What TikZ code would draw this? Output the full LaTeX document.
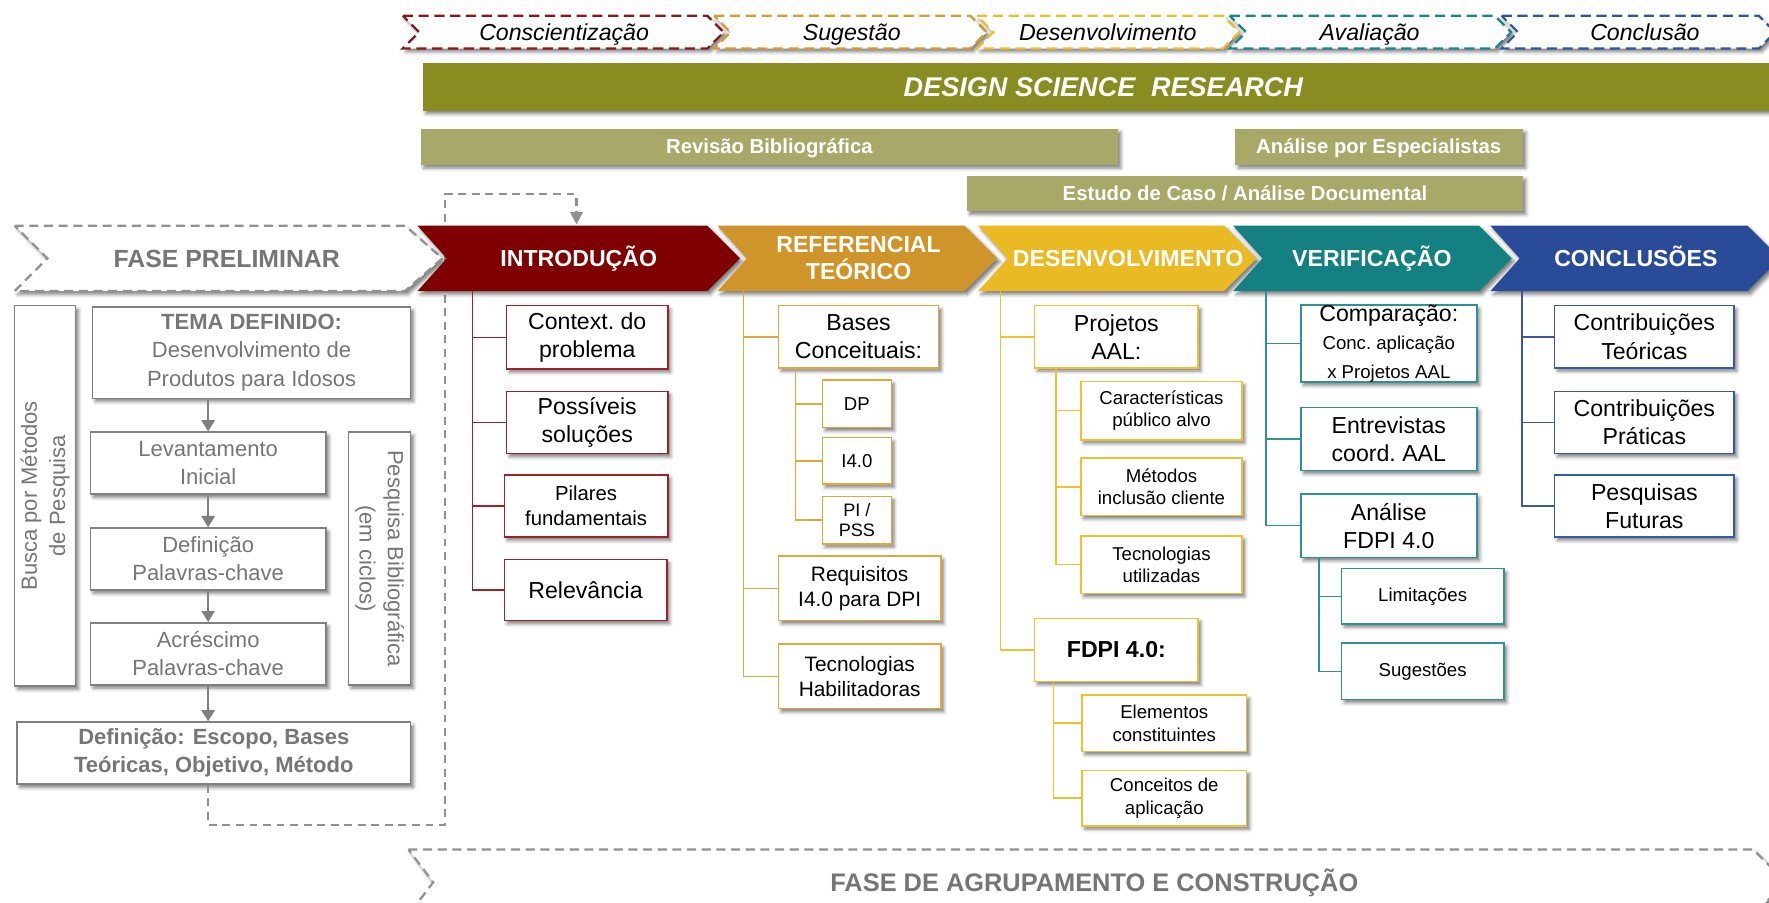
\documentclass[tikz,border=0pt]{standalone}
\usepackage{fontspec}
\setmainfont{Liberation Sans}
\usetikzlibrary{arrows.meta,shadows.blur}

\definecolor{introC}{RGB}{127,0,0}
\definecolor{introB}{RGB}{160,32,40}
\definecolor{refC}{RGB}{207,149,42}
\definecolor{refB}{RGB}{228,168,58}
\definecolor{desC}{RGB}{233,186,36}
\definecolor{desB}{RGB}{242,192,45}
\definecolor{verC}{RGB}{20,128,130}
\definecolor{verB}{RGB}{45,145,150}
\definecolor{conC}{RGB}{42,76,152}
\definecolor{conB}{RGB}{55,88,165}
\definecolor{topA}{RGB}{140,22,22}
\definecolor{topB}{RGB}{215,155,50}
\definecolor{topC}{RGB}{238,190,40}
\definecolor{topD}{RGB}{25,135,135}
\definecolor{topE}{RGB}{45,85,160}
\definecolor{dsrC}{RGB}{137,140,33}
\definecolor{oliveL}{RGB}{168,168,104}
\definecolor{txtgray}{RGB}{118,118,118}
\definecolor{boxgray}{RGB}{128,128,128}
\definecolor{dashgray}{RGB}{145,145,145}

\newcommand\setfs[2]{\fontsize{#1pt}{#2pt}\selectfont}
% chevron in the main row: left edge, shoulder, style
\newcommand\mainchev[3]{%
  \path[#3] (#1,200) -- (#2,200) -- ++(29,29) -- ++(-29,29) -- (#1,258) -- ++(26,-29) -- cycle;}
% chevron in the top row of DSR steps
\newcommand\topchev[3]{%
  \path[#3] (#1,14) -- (#2,14) -- ++(14.5,14.5) -- ++(-14.5,14.5) -- (#1,43) -- ++(14.5,-14.5) -- cycle;}

\begin{document}
\begin{tikzpicture}[x=1pt,y=-1pt,
  shadowed/.style={blur shadow={shadow xshift=2.5pt,shadow yshift=-3pt,shadow blur radius=3pt,shadow opacity=50}},
  box/.style={draw=#1,line width=1.3pt,fill=white,shadowed,align=center,inner sep=0pt,text=black},
  mainbox/.style={box=#1,font=\setfs{20.5}{25}},
  subbox/.style={box=#1,font=\setfs{16.5}{20}},
  grbox/.style={box=boxgray,text=txtgray,font=\setfs{19.5}{25}},
  branch/.style={draw=#1,line width=1.3pt},
  chevtxt/.style={text=white,font=\bfseries\setfs{20.5}{24},align=center},
  steptxt/.style={text=black,font=\itshape\setfs{20.5}{24},anchor=base},
  bartxt/.style={text=white,font=\bfseries\setfs{18}{21},anchor=base},
  topchevron/.style={draw=#1,fill=white,line width=2pt,dash pattern=on 9pt off 5pt,shadowed},
  phasechev/.style={draw=dashgray,fill=white,line width=2pt,dash pattern=on 8pt off 5pt,shadowed},
  phasetxt/.style={text=txtgray,font=\bfseries\setfs{22}{26},anchor=base},
  grarrow/.style={draw=boxgray,line width=1.3pt,-{Triangle[width=12pt,length=10pt]}},
  loopline/.style={draw=dashgray,line width=2pt,dash pattern=on 7pt off 5pt,-{Triangle[width=11pt,length=11pt]}}
]
\useasboundingbox (0,0) rectangle (1568,800);

% ---------- DSR step row ----------
\topchev{357}{627}{topchevron=topA}
\topchev{633}{860}{topchevron=topB}
\topchev{866}{1084}{topchevron=topC}
\topchev{1090}{1325}{topchevron=topD}
\topchev{1331}{1559}{topchevron=topE}
\node[steptxt] (tc1) at (500,36) {Conscientização};
\node[steptxt] (tc2) at (755,36) {Sugestão};
\node[steptxt] (tc3) at (982,36) {Desenvolvimento};
\node[steptxt] (tc4) at (1214,36) {Avaliação};
\node[steptxt] (tc5) at (1458,36) {Conclusão};

% ---------- method bars ----------
\path[fill=dsrC,shadowed] (375,56) rectangle (1580,98);
\node[text=white,font=\bfseries\itshape\setfs{24}{28},anchor=base] (dsr) at (978,85.5) {DESIGN SCIENCE\hspace{0.3em} RESEARCH};
\path[fill=oliveL,shadowed] (373,114) rectangle (991,146);
\node[bartxt] (revbib) at (682,136.5) {Revisão Bibliográfica};
\path[fill=oliveL,shadowed] (1095,114) rectangle (1350,146);
\node[bartxt] (analesp) at (1222,136.5) {Análise por Especialistas};
\path[fill=oliveL,shadowed] (857,156) rectangle (1350,187);
\node[bartxt] (estudo) at (1103.5,178) {Estudo de Caso / Análise Documental};

% ---------- preliminary phase: boxes ----------
\node[grbox,rotate=90,minimum width=337pt,minimum height=54pt] (busca) at (40,439.5) {Busca por Métodos\\de Pesquisa};
\node[grbox,minimum width=282pt,minimum height=81pt] (tema) at (223,312.5) {{\bfseries TEMA DEFINIDO:}\\Desenvolvimento de\\Produtos para Idosos};
\node[grbox,minimum width=209pt,minimum height=55pt] (levant) at (184.5,410.5) {Levantamento\\Inicial};
\node[grbox,minimum width=209pt,minimum height=55pt] (defpc) at (184.5,495.5) {Definição\\Palavras-chave};
\node[grbox,minimum width=209pt,minimum height=55pt] (acresc) at (184.5,579.5) {Acréscimo\\Palavras-chave};
\node[grbox,rotate=-90,minimum width=224pt,minimum height=55pt] (pesqbib) at (336.5,495) {Pesquisa Bibliográfica\\(em ciclos)};
\node[grbox,font=\bfseries\setfs{19.5}{25},minimum width=349pt,minimum height=55pt] (deffinal) at (189.5,667.5) {Definição: Escopo, Bases\\Teóricas, Objetivo, Método};

\draw[grarrow] (tema.south -| levant.north) -- (levant.north);
\draw[grarrow] (levant.south) -- (defpc.north);
\draw[grarrow] (defpc.south) -- (acresc.north);
\draw[grarrow] (acresc.south) -- (acresc.south |- deffinal.north);

% feedback loop into the introduction
\coordinate (loopA) at (394.5,731);
\coordinate (loopB) at (394.5,172);
\coordinate (introin) at (511,199);
\draw[loopline] (acresc.south |- deffinal.south) |- (loopA) -- (loopB) -| (introin);

% ---------- phase chevrons ----------
\path[phasechev] (13,200) -- (359,200) -- ++(33,29) -- ++(-33,29) -- (13,258) -- ++(29,-29) -- cycle;
\node[phasetxt] (fasepre) at (201,237) {FASE PRELIMINAR};

\mainchev{370}{627}{fill=introC,shadowed}
\mainchev{636}{855}{fill=refC,shadowed}
\mainchev{867}{1085}{fill=desC,shadowed}
\mainchev{1093}{1311}{fill=verC,shadowed}
\mainchev{1321}{1549}{fill=conC,shadowed}
\node[chevtxt,anchor=base] (intro) at (513,236.5) {INTRODUÇÃO};
\node[chevtxt] (referencial) at (761,229) {REFERENCIAL\\TEÓRICO};
\node[chevtxt,anchor=base] (desenv) at (1000,236.5) {DESENVOLVIMENTO};
\node[chevtxt,anchor=base] (verif) at (1216,236.5) {VERIFICAÇÃO};
\node[chevtxt,anchor=base] (concl) at (1450,236.5) {CONCLUSÕES};

\coordinate (introroot) at (419,258);
\coordinate (refroot) at (659,258);
\coordinate (desroot) at (887,258);
\coordinate (verroot) at (1122,258);
\coordinate (conroot) at (1349,258);

% ---------- introdução ----------
\node[mainbox=introB,minimum width=143pt,minimum height=56pt] (ctx) at (520.5,299) {Context.\ do\\problema};
\node[mainbox=introB,minimum width=143pt,minimum height=55pt] (poss) at (520.5,374.5) {Possíveis\\soluções};
\node[box=introB,font=\setfs{18}{22.5},minimum width=145pt,minimum height=55pt] (pilares) at (519.5,448.5) {Pilares\\fundamentais};
\node[mainbox=introB,minimum width=144pt,minimum height=54pt] (relev) at (519,523) {Relevância};
\foreach \n in {ctx,poss,pilares,relev} \draw[branch=introB] (introroot) |- (\n.west);

% ---------- referencial teórico ----------
\node[mainbox=refB,minimum width=142pt,minimum height=55pt] (bases) at (761,298.5) {Bases\\Conceituais:};
\node[subbox=refB,minimum width=61pt,minimum height=42pt] (dp) at (759.5,358) {DP};
\node[subbox=refB,minimum width=61pt,minimum height=41pt] (ifour) at (759.5,408.5) {I4.0};
\node[subbox=refB,font=\setfs{16}{18.5},minimum width=61pt,minimum height=42pt] (pipss) at (759.5,461) {PI /\\PSS};
\node[box=refB,font=\setfs{18.5}{22},minimum width=144pt,minimum height=57pt] (requis) at (762,521.5) {Requisitos\\I4.0 para DPI};
\node[box=refB,font=\setfs{18.5}{22},minimum width=144pt,minimum height=57pt] (tecnhab) at (762,599.5) {Tecnologias\\Habilitadoras};
\coordinate (refsub) at (705,326);
\foreach \n in {bases,requis,tecnhab} \draw[branch=refB] (refroot) |- (\n.west);
\foreach \n in {dp,ifour,pipss} \draw[branch=refB] (refsub) |- (\n.west);

% ---------- desenvolvimento ----------
\node[mainbox=desB,minimum width=145pt,minimum height=55pt] (projetos) at (989.5,298.5) {Projetos\\AAL:};
\node[subbox=desB,minimum width=143pt,minimum height=52pt] (caract) at (1029.5,364) {Características\\público alvo};
\node[subbox=desB,minimum width=143pt,minimum height=51pt] (metodos) at (1029.5,431.5) {Métodos\\inclusão cliente};
\node[subbox=desB,minimum width=143pt,minimum height=51pt] (tecutil) at (1029.5,500.5) {Tecnologias\\utilizadas};
\node[mainbox=desB,font=\bfseries\setfs{20.5}{25},minimum width=145pt,minimum height=56pt] (fdpi) at (989.5,576) {FDPI 4.0:};
\node[subbox=desB,minimum width=146pt,minimum height=50pt] (elem) at (1032,641) {Elementos\\constituintes};
\node[subbox=desB,minimum width=146pt,minimum height=49pt] (concap) at (1032,707.5) {Conceitos de\\aplicação};
\coordinate (dessubA) at (936,326);
\coordinate (dessubB) at (934,604);
\foreach \n in {projetos,fdpi} \draw[branch=desB] (desroot) |- (\n.west);
\foreach \n in {caract,metodos,tecutil} \draw[branch=desB] (dessubA) |- (\n.west);
\foreach \n in {elem,concap} \draw[branch=desB] (dessubB) |- (\n.west);

% ---------- verificação ----------
\node[mainbox=verB,minimum width=156pt,minimum height=67pt] (compar) at (1231,304.5) {Comparação:\\{\setfs{16.5}{20.5}Conc.\ aplicação}\\{\setfs{16.5}{20.5}x Projetos AAL}};
\node[mainbox=verB,minimum width=156pt,minimum height=56pt] (entrev) at (1231,389) {Entrevistas\\coord.\ AAL};
\node[mainbox=verB,minimum width=156pt,minimum height=56pt] (analise) at (1231,466) {Análise\\FDPI 4.0};
\node[subbox=verB,minimum width=144pt,minimum height=49pt] (limit) at (1261,528.5) {Limitações};
\node[subbox=verB,minimum width=144pt,minimum height=50pt] (suges) at (1261,595) {Sugestões};
\coordinate (versub) at (1169,494);
\foreach \n in {compar,entrev,analise} \draw[branch=verB] (verroot) |- (\n.west);
\foreach \n in {limit,suges} \draw[branch=verB] (versub) |- (\n.west);

% ---------- conclusões ----------
\node[mainbox=conB,minimum width=159pt,minimum height=55pt] (contrt) at (1457.5,298.5) {Contribuições\\Teóricas};
\node[mainbox=conB,minimum width=159pt,minimum height=55pt] (contrp) at (1457.5,374.5) {Contribuições\\Práticas};
\node[mainbox=conB,minimum width=159pt,minimum height=55pt] (pesqfut) at (1457.5,448.5) {Pesquisas\\Futuras};
\foreach \n in {contrt,contrp,pesqfut} \draw[branch=conB] (conroot) |- (\n.west);

% ---------- grouping and construction phase ----------
\path[phasechev] (362,753) -- (1554,753) -- ++(29,29) -- ++(-29,29) -- (362,811) -- ++(22,-29) -- cycle;
\node[phasetxt,font=\bfseries\setfs{22.5}{26}] (faseagr) at (970,790) {FASE DE AGRUPAMENTO E CONSTRUÇÃO};
\end{tikzpicture}
\end{document}
